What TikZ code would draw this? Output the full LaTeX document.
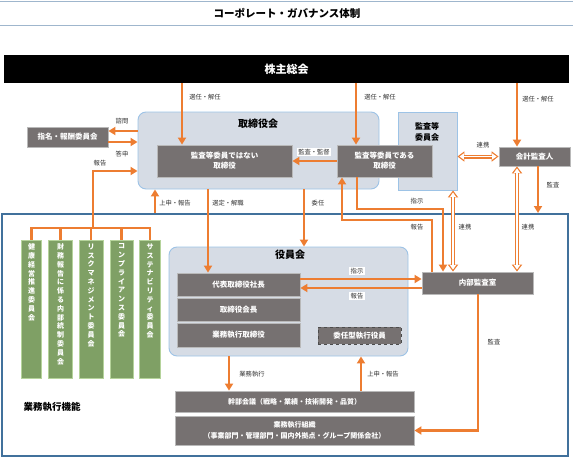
\documentclass[tikz,border=0pt]{standalone}
\usepackage{fontspec}
\newfontfamily\jp{Noto Sans CJK JP}
\usetikzlibrary{arrows.meta}

\definecolor{orng}{HTML}{ED7D31}
\definecolor{dgry}{HTML}{767171}
\definecolor{lblu}{HTML}{D6DCE5}
\definecolor{bord}{HTML}{9DC3E6}
\definecolor{frm}{HTML}{41719C}
\definecolor{grn}{HTML}{7FA065}
\definecolor{grnb}{HTML}{B5D39B}
\definecolor{tline}{HTML}{9FB6CD}

\begin{document}
\begin{tikzpicture}[x=1pt,y=-1pt]

\tikzstyle{gbox}=[draw=gray!55, fill=dgry, text=white, align=center, inner sep=0pt,
  line width=0.8pt, font=\jp\bfseries\fontsize{7.5}{10}\selectfont]
\tikzstyle{grp}=[draw=bord, fill=lblu, line width=0.9pt, inner sep=0pt]
\tikzstyle{hdr}=[font=\jp\bfseries\fontsize{10}{12}\selectfont, inner sep=0pt]
\tikzstyle{com}=[draw=grnb, fill=grn, line width=0.8pt, inner sep=0pt, minimum height=138]
\tikzstyle{vtxt}=[anchor=north, text=white, align=center, inner sep=0pt,
  font=\jp\bfseries\fontsize{7}{8.8}\selectfont]
\tikzstyle{lbl}=[font=\jp\fontsize{6.3}{7}\selectfont, text=black!80, fill=white, inner sep=1.5pt]
\tikzstyle{oarr}=[orng, line width=2.4pt, -{Triangle[length=7pt,width=8pt]}]
\tikzstyle{oline}=[orng, line width=2.4pt]
\tikzstyle{dblo}=[orng, line width=4pt,
  {Triangle[length=7pt,width=10pt]}-{Triangle[length=7pt,width=10pt]}]
\tikzstyle{dbli}=[white, line width=1.8pt, shorten >=2pt, shorten <=2pt,
  {Triangle[length=4.5pt,width=6pt]}-{Triangle[length=4.5pt,width=6pt]}]

\useasboundingbox (0,0) rectangle (573,458);

% title
\draw[tline, line width=1pt] (0,1) -- (573,1);
\draw[tline, line width=1pt] (0,25) -- (573,25);
\node[font=\jp\bfseries\fontsize{10.5}{12}\selectfont] (title) at (287,13) {コーポレート・ガバナンス体制};

% shareholders
\node[fill=black, text=white, minimum width=565, minimum height=28, inner sep=0pt,
  font=\jp\bfseries\fontsize{11}{13}\selectfont] (kabu) at (286.5,69) {株主総会};

% board
\node[grp, rounded corners=8pt, minimum width=241, minimum height=77] (board) at (258.5,150.5) {};
\node[hdr] (boardt) at (258,124) {取締役会};
\node[grp, minimum width=59, minimum height=78] (acm) at (427.5,151) {};
\node[hdr, align=center, font=\jp\bfseries\fontsize{8}{11}\selectfont] (acmt) at (427,132) {監査等\\委員会};
\node[gbox, minimum width=135, minimum height=32] (nonaudit) at (224.5,161) {監査等委員ではない\\取締役};
\node[gbox, minimum width=95, minimum height=32] (audit) at (384.5,161) {監査等委員である\\取締役};
\node[gbox, minimum width=71, minimum height=19] (kaikei) at (534.5,156.5) {会計監査人};
\node[gbox, minimum width=81, minimum height=20] (shimei) at (67.5,137) {指名・報酬委員会};

% execution frame
\node[draw=frm, line width=2pt, minimum width=566, minimum height=242, inner sep=0pt] (exec) at (285,335) {};
\node[hdr, font=\jp\bfseries\fontsize{9.5}{11}\selectfont] (exect) at (52,407) {業務執行機能};

% committees
\node[com, minimum width=20] (c1) at (31.5,309) {};
\node[com, minimum width=24] (c2) at (60.5,309) {};
\node[com, minimum width=24] (c3) at (91,309) {};
\node[com, minimum width=23] (c4) at (121.5,309) {};
\node[com, minimum width=21] (c5) at (150,309) {};
\node[vtxt] (t1) at ([yshift=-4pt]c1.north) {健\\康\\経\\営\\推\\進\\委\\員\\会};
\node[vtxt] (t2) at ([yshift=-4pt]c2.north) {財\\務\\報\\告\\に\\係\\る\\内\\部\\統\\制\\委\\員\\会};
\node[vtxt] (t3) at ([yshift=-4pt]c3.north) {リ\\ス\\ク\\マ\\ネ\\ジ\\メ\\ン\\ト\\委\\員\\会};
\node[vtxt] (t4) at ([yshift=-4pt]c4.north) {コ\\ン\\プ\\ラ\\イ\\ア\\ン\\ス\\委\\員\\会};
\node[vtxt] (t5) at ([yshift=-4pt]c5.north) {サ\\ス\\テ\\ナ\\ビ\\リ\\テ\\ィ\\委\\員\\会};

% officers
\node[grp, rounded corners=8pt, minimum width=239, minimum height=109] (yakuin) at (288.5,301.5) {};
\node[hdr] (yakuint) at (290,255) {役員会};
\node[gbox, minimum width=123, minimum height=23] (pres) at (238.5,284.5) {代表取締役社長};
\node[gbox, minimum width=123, minimum height=23] (chair) at (238.5,309.5) {取締役会長};
\node[gbox, minimum width=123, minimum height=24] (exdir) at (238.5,335) {業務執行取締役};
\node[gbox, draw=black!70, dashed, line width=1pt, minimum width=83, minimum height=17] (inexec) at (359.5,335.5) {委任型執行役員};
\node[gbox, minimum width=111, minimum height=22] (naibu) at (477.5,283) {内部監査室};
\node[gbox, minimum width=239, minimum height=21, font=\jp\bfseries\fontsize{7}{10}\selectfont] (kanbu) at (294.5,401.5) {幹部会議（戦略・業績・技術開発・品質）};
\node[gbox, minimum width=239, minimum height=29, font=\jp\bfseries\fontsize{7}{10.5}\selectfont] (soshiki) at (294.5,430.5) {業務執行組織\\（事業部門・管理部門・国内外拠点・グループ関係会社）};

% turning points
\coordinate (sen1) at (182,0);
\coordinate (sen2) at (356,0);
\coordinate (sen3) at (517,0);
\coordinate (shimon) at (0,131);
\coordinate (toshin) at (0,142);
\coordinate (brk) at (93,228);
\coordinate (rep) at (93,171);
\coordinate (jo1) at (155,0);
\coordinate (kan1) at (538,0);
\coordinate (sel) at (208,0);
\coordinate (inin) at (304,0);
\coordinate (shiA) at (357,0);
\coordinate (shiY) at (0,209);
\coordinate (shiB) at (443,0);
\coordinate (hoA) at (432,0);
\coordinate (hoY) at (0,220);
\coordinate (hoB) at (342,0);
\coordinate (ren1) at (453,0);
\coordinate (shiY2) at (0,279);
\coordinate (hoY2) at (0,288);
\coordinate (gyo) at (229,0);
\coordinate (jo2) at (361,0);
\coordinate (kan2) at (478,0);

% connectors
\draw[oarr] (kabu.south -| sen1) -- (nonaudit.north -| sen1);
\draw[oarr] (kabu.south -| sen2) -- (audit.north -| sen2);
\draw[oarr] (kabu.south -| sen3) -- (kaikei.north -| sen3);
\draw[oarr] (board.west |- shimon) -- (shimei.east |- shimon);
\draw[oarr] (shimei.east |- toshin) -- (board.west |- toshin);
\foreach \c in {c1,c2,c3,c4,c5}
  \draw[oline] (\c.north) |- (brk);
\draw[oarr] (brk) -- (rep) -- (board.west |- rep);
\draw[oarr] (exec.north -| jo1) -- (board.south -| jo1);
\draw[oarr] (audit.west) -- (nonaudit.east);
\draw[oarr] (kaikei.south -| kan1) -- (exec.north -| kan1);
\draw[oarr] (board.south -| sel) -- (pres.north -| sel);
\draw[oarr] (board.south -| inin) -- (yakuin.north -| inin);
\draw[oarr] (audit.south -| shiA) |- (shiB |- shiY) -- (naibu.north -| shiB);
\draw[oarr] (naibu.north -| hoA) |- (hoB |- hoY) -- (audit.south -| hoB);
\draw[oarr] (pres.east |- shiY2) -- (naibu.west |- shiY2);
\draw[oarr] (naibu.west |- hoY2) -- (pres.east |- hoY2);
\draw[oarr] (yakuin.south -| gyo) -- (kanbu.north -| gyo);
\draw[oarr] (kanbu.north -| jo2) -- (yakuin.south -| jo2);
\draw[oarr] (naibu.south -| kan2) |- (soshiki.east);

% hollow two-way links
\draw[dblo] (acm.east |- kaikei) -- (kaikei.west);
\draw[dbli] (acm.east |- kaikei) -- (kaikei.west);
\draw[dblo] (acm.south -| ren1) -- (naibu.north -| ren1);
\draw[dbli] (acm.south -| ren1) -- (naibu.north -| ren1);
\draw[dblo] (kaikei.south -| sen3) -- (naibu.north -| sen3);
\draw[dbli] (kaikei.south -| sen3) -- (naibu.north -| sen3);

% labels
\node[lbl] (l1) at (205,97) {選任・解任};
\node[lbl] (l2) at (380,97) {選任・解任};
\node[lbl] (l3) at (538,99) {選任・解任};
\node[lbl] (l4) at (122,121) {諮問};
\node[lbl] (l5) at (122,154) {答申};
\node[lbl] (l6) at (100,163) {報告};
\node[lbl] (l7) at (175,203) {上申・報告};
\node[lbl] (l8) at (314,152) {監査・監督};
\node[lbl] (l9) at (483,145) {連携};
\node[lbl] (l10) at (553,185) {監査};
\node[lbl] (l11) at (228,203) {選定・解職};
\node[lbl] (l12) at (318,203) {委任};
\node[lbl] (l13) at (417,201) {指示};
\node[lbl] (l14) at (417,227) {報告};
\node[lbl] (l15) at (465,227) {連携};
\node[lbl] (l16) at (528,227) {連携};
\node[lbl] (l17) at (357,271) {指示};
\node[lbl] (l18) at (357,296) {報告};
\node[lbl] (l19) at (252,374) {業務執行};
\node[lbl] (l20) at (383,374) {上申・報告};
\node[lbl] (l21) at (494,342) {監査};

\end{tikzpicture}
\end{document}
